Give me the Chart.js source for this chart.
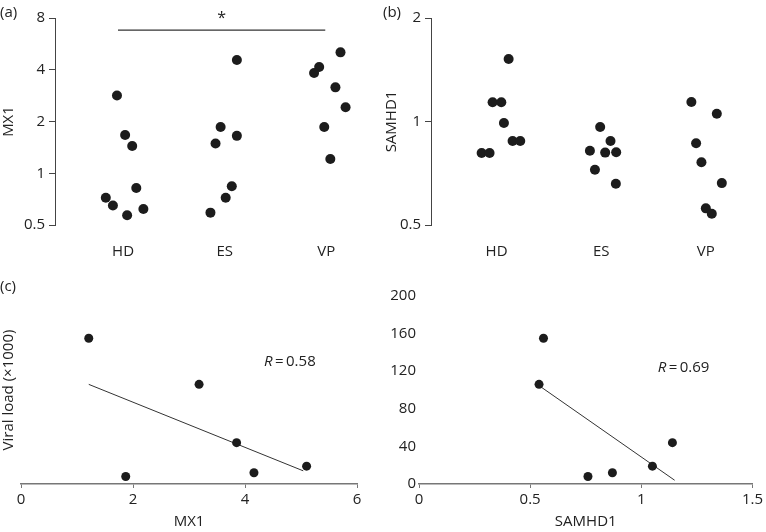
<!DOCTYPE html>
<html>
<head>
<meta charset="utf-8">
<script src="https://cdn.jsdelivr.net/npm/chart.js@4"></script>
<style>
  body { margin: 0; background: #fff; }
  #wrap { position: relative; width: 766px; height: 532px; font-family: "Open Sans", sans-serif; color: #222; }
  canvas { position: absolute; }
  .tag { position: absolute; font-size: 15px; line-height: 16px; }
</style>
</head>
<body>
<div id="wrap">
  <canvas id="pa" width="383" height="270" style="left:0;top:0"></canvas>
  <canvas id="pb" width="383" height="270" style="left:383px;top:0"></canvas>
  <canvas id="pc" width="383" height="262" style="left:0;top:270px"></canvas>
  <canvas id="pd" width="383" height="262" style="left:383px;top:270px"></canvas>
  <div class="tag" style="left:0;top:3px">(a)</div>
  <div class="tag" style="left:383px;top:3px">(b)</div>
  <div class="tag" style="left:0;top:277px">(c)</div>
</div>
<script>
// groups on the x axis of (a) and (b)
const groups = ['HD', 'ES', 'VP'];

// (a) MX1 per subject, with horizontal jitter positions
const mx1Values = [2.83, 1.67, 1.44, 0.82, 0.72, 0.65, 0.57, 0.62,
                   4.56, 1.86, 1.49, 1.65, 0.84, 0.72, 0.59,
                   5.05, 4.15, 3.83, 3.16, 2.42, 1.86, 1.21];
const mx1Jitter = [0.94, 1.02, 1.09, 1.13, 0.83, 0.90, 1.04, 1.20,
                   2.12, 1.96, 1.91, 2.12, 2.07, 2.01, 1.86,
                   3.14, 2.93, 2.88, 3.09, 3.19, 2.98, 3.04];
const mx1Ticks = [0.5, 1, 2, 4, 8];
const sigBar = [{ x: 0.95, y: 6.8 }, { x: 2.99, y: 6.8 }];

// (b) SAMHD1 per subject
const samValues = [1.52, 1.137, 1.137, 0.99, 0.81, 0.81, 0.878, 0.878,
                   0.964, 0.878, 0.822, 0.812, 0.814, 0.724, 0.659,
                   1.14, 1.053, 0.864, 0.761, 0.662, 0.559, 0.539];
const samJitter = [1.115, 0.962, 1.045, 1.07, 0.857, 0.933, 1.153, 1.226,
                   1.99, 2.089, 1.892, 2.038, 2.143, 1.94, 2.14,
                   2.862, 3.105, 2.907, 2.958, 3.153, 3.0, 3.057];
const samTicks = [0.5, 1, 2];

// (c)/(d) viraemic patients
const viralLoad = [155, 106, 44, 19, 12, 8];
const mx1Patient = [1.21, 3.18, 3.85, 5.10, 4.16, 1.87];
const samPatient = [0.56, 0.54, 1.14, 1.05, 0.87, 0.76];
const fitMx1 = [{ x: 1.21, y: 106 }, { x: 5.04, y: 14 }];
const fitSam = [{ x: 0.55, y: 103 }, { x: 1.15, y: 4 }];

const dot = '#1c1c1c';
const axisCol = '#444';
const textCol = '#222';

Chart.defaults.font.family = '"Open Sans", sans-serif';
Chart.defaults.font.size = 15;
Chart.defaults.color = textCol;

const notes = {
  id: 'notes',
  afterDatasetsDraw(chart, args, opts) {
    const { ctx } = chart;
    const x = chart.scales.x, y = chart.scales.y;
    (opts.items || []).forEach((it) => {
      const px = x.getPixelForValue(it.x);
      const py = y.getPixelForValue(it.y);
      const size = it.size || 15;
      ctx.save();
      ctx.fillStyle = textCol;
      ctx.textBaseline = 'middle';
      ctx.textAlign = 'left';
      const fonts = it.parts.map((p) => `${p.italic ? 'italic ' : ''}${size}px "Open Sans", sans-serif`);
      const widths = it.parts.map((p, i) => { ctx.font = fonts[i]; return ctx.measureText(p.text).width; });
      let cx = px - widths.reduce((a, b) => a + b, 0) / 2;
      it.parts.forEach((p, i) => {
        ctx.font = fonts[i];
        ctx.fillText(p.text, cx, py);
        cx += widths[i];
      });
      ctx.restore();
    });
  },
};

function pts(xs, ys) {
  return xs.map((x, i) => ({ x, y: ys[i] }));
}

function stripChart(id, xs, ys, yTicks, yMin, yMax, yTitle, xMin, xMax, yWidth, extra, items) {
  const datasets = [
    { data: pts(xs, ys), pointRadius: 5, pointHoverRadius: 5, backgroundColor: dot, borderWidth: 0 },
  ].concat(extra);
  return new Chart(document.getElementById(id), {
    type: 'scatter',
    data: { datasets },
    plugins: [notes],
    options: {
      responsive: false,
      animation: false,
      devicePixelRatio: 1,
      layout: { padding: { top: 18, right: 11, left: 0, bottom: 0 } },
      plugins: { legend: { display: false }, tooltip: { enabled: false }, notes: { items } },
      scales: {
        x: {
          type: 'linear', min: xMin, max: xMax,
          afterFit: (s) => { s.height = 45; },
          afterBuildTicks: (s) => { s.ticks = groups.map((g, i) => ({ value: i + 1 })); },
          ticks: { callback: (v, i) => groups[i], padding: 18 },
          grid: { display: false, drawTicks: false },
          border: { display: false },
        },
        y: {
          type: 'logarithmic', min: yMin, max: yMax,
          afterFit: (s) => { s.width = yWidth; },
          afterBuildTicks: (s) => { s.ticks = yTicks.map((v) => ({ value: v })); },
          ticks: { callback: (v) => String(v), padding: 4 },
          grid: { drawOnChartArea: false, tickLength: 6, color: axisCol },
          border: { color: axisCol },
          title: { display: true, text: yTitle, padding: { top: 0, bottom: 0 } },
        },
      },
    },
  });
}

function corrChart(id, xs, fit, xMax, xStep, xTitle, yWidth, showY, rightPad, rNote) {
  return new Chart(document.getElementById(id), {
    type: 'scatter',
    data: {
      datasets: [
        { data: pts(xs, viralLoad), pointRadius: 4.5, pointHoverRadius: 4.5, backgroundColor: dot, borderWidth: 0 },
        { data: fit, showLine: true, borderColor: '#333', borderWidth: 1, pointRadius: 0 },
      ],
    },
    plugins: [notes],
    options: {
      responsive: false,
      animation: false,
      devicePixelRatio: 1,
      layout: { padding: { top: 26, right: rightPad, left: 0, bottom: 0 } },
      plugins: { legend: { display: false }, tooltip: { enabled: false }, notes: { items: [rNote] } },
      scales: {
        x: {
          type: 'linear', min: 0, max: xMax,
          afterFit: (s) => { s.height = 48; },
          ticks: { stepSize: xStep, padding: 3, callback: (v) => String(v) },
          grid: { drawOnChartArea: false, tickLength: 4, color: '#777' },
          border: { color: '#777', width: 1.5 },
          title: { display: true, text: xTitle, padding: { top: 0, bottom: 1 } },
        },
        y: {
          type: 'linear', min: 0, max: 200,
          afterFit: (s) => { s.width = yWidth; },
          ticks: { display: showY, stepSize: 40, padding: 3 },
          grid: { display: false, drawTicks: false },
          border: { display: false },
          title: { display: !showY, text: 'Viral load (×1000)', padding: { top: 0, bottom: 0 } },
        },
      },
    },
  });
}

stripChart('pa', mx1Jitter, mx1Values, mx1Ticks, 0.5, 8, 'MX1', 0.33, 3.45, 55,
  [{ data: sigBar, showLine: true, borderColor: '#333', borderWidth: 1.2, pointRadius: 0 }],
  [{ x: 1.97, y: 8, size: 16, parts: [{ text: '*' }] }]);

stripChart('pb', samJitter, samValues, samTicks, 0.5, 2, 'SAMHD1', 0.373, 3.47, 48, [], []);

corrChart('pc', mx1Patient, fitMx1, 6, 2, 'MX1', 21, false, 26,
  { x: 4.8, y: 130, parts: [{ text: 'R', italic: true }, { text: '\u2009=\u20090.58' }] });

corrChart('pd', samPatient, fitSam, 1.5, 0.5, 'SAMHD1', 36, true, 11,
  { x: 1.19, y: 124, parts: [{ text: 'R', italic: true }, { text: '\u2009=\u20090.69' }] });
</script>
</body>
</html>
